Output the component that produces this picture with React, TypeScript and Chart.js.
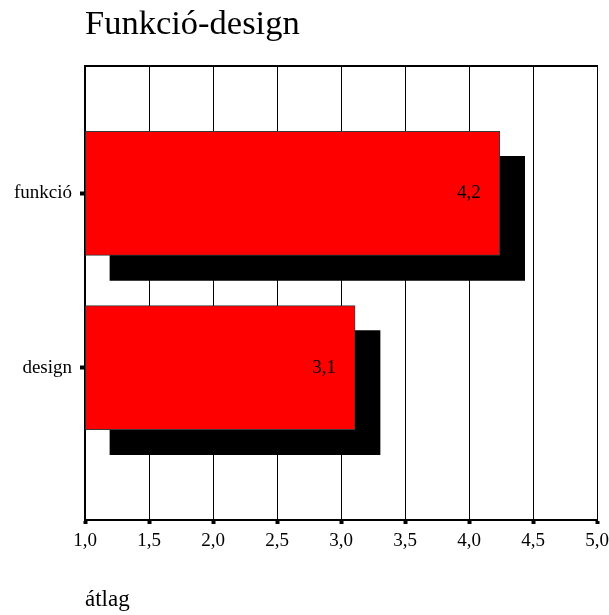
import { useEffect, useRef } from 'react';
import { Chart, registerables } from 'chart.js';

Chart.register(...registerables);

// ---- data ----
const TITLE = 'Funkció-design';
const AXIS_TITLE = 'átlag';
const categories = ['funkció', 'design'];
const means = [4.24, 3.11];
const xTicks = [1.0, 1.5, 2.0, 2.5, 3.0, 3.5, 4.0, 4.5, 5.0];

// ---- style ----
const FONT = "'Liberation Serif', 'Times New Roman', Times, serif";
const X_MIN = 1;
const X_MAX = 5;
const Y_MIN = 0.271;
const Y_MAX = 2.874;
const SHADOW_DX = 0.195; // shadow offset in x units
const SHADOW_DY = 0.143; // shadow offset in category units

const fmt = (v: number) => v.toFixed(1).replace('.', ',');

const valueLabels = {
  id: 'valueLabels',
  afterDatasetsDraw(chart: any) {
    const meta = chart.getDatasetMeta(0);
    const ctx = chart.ctx;
    ctx.save();
    ctx.font = `19px ${FONT}`;
    ctx.fillStyle = '#000';
    ctx.textAlign = 'right';
    ctx.textBaseline = 'middle';
    meta.data.forEach((el: any, i: number) => {
      ctx.fillText(fmt(means[i]), el.x - 19, el.y);
    });
    ctx.restore();
  },
};

export default function App() {
  const ref = useRef<HTMLCanvasElement>(null);

  useEffect(() => {
    const points = categories.map((_, i) => ({ x: means[i], y: i + 1 }));
    const tickFont = { size: 19, family: FONT };
    const chart = new Chart(ref.current as HTMLCanvasElement, {
      type: 'bar',
      data: {
        datasets: [
          {
            label: AXIS_TITLE,
            data: points,
            backgroundColor: '#FF0000',
            borderColor: '#3a3a3a',
            borderWidth: 1,
            borderSkipped: false,
            base: 1,
            barThickness: 124,
            grouped: false,
            xAxisID: 'x',
            yAxisID: 'y',
            order: 0,
          } as any,
          {
            label: 'shadow',
            data: points.map((p) => ({ ...p })),
            backgroundColor: '#000000',
            borderWidth: 0,
            base: 1,
            barThickness: 124,
            grouped: false,
            xAxisID: 'x2',
            yAxisID: 'y2',
            order: 1,
          } as any,
        ],
      },
      options: {
        indexAxis: 'y',
        animation: false,
        responsive: false,
        devicePixelRatio: 1,
        layout: { padding: { left: 0, right: 12, top: 0, bottom: 0 } },
        plugins: {
          legend: { display: false },
          tooltip: { enabled: false },
          title: {
            display: true,
            text: TITLE,
            align: 'start',
            fullSize: false,
            color: '#000',
            font: { size: 34.5, family: FONT, weight: 'normal' },
            padding: { top: 4, bottom: 21 },
          },
        },
        scales: {
          x: {
            type: 'linear',
            position: 'bottom',
            offset: false,
            min: X_MIN,
            max: X_MAX,
            afterBuildTicks: (s: any) => {
              s.ticks = xTicks.map((v) => ({ value: v }));
            },
            afterFit: (s: any) => {
              s.height = 95;
              s.paddingLeft = 0;
              s.paddingRight = 0;
            },
            ticks: {
              callback: (v: any) => fmt(Number(v)),
              color: '#000',
              font: tickFont,
              padding: 6,
              maxRotation: 0,
              autoSkip: false,
            },
            grid: {
              offset: false,
              color: '#000',
              lineWidth: 1,
              drawTicks: true,
              tickLength: 4,
              tickWidth: 4,
              tickColor: '#000',
            },
            border: { display: true, color: '#000', width: 2 },
            title: {
              display: true,
              text: AXIS_TITLE,
              align: 'start',
              color: '#000',
              font: { size: 23, family: FONT },
              padding: { top: 0, bottom: 1 },
            },
          },
          x2: {
            type: 'linear',
            position: 'top',
            display: true,
            offset: false,
            min: X_MIN - SHADOW_DX,
            max: X_MAX - SHADOW_DX,
            afterFit: (s: any) => {
              s.height = 0;
              s.paddingLeft = 0;
              s.paddingRight = 0;
            },
            ticks: { display: false },
            grid: { display: false, drawTicks: false, offset: false },
            border: { display: true, color: '#000', width: 2 },
          },
          y: {
            type: 'linear',
            position: 'left',
            reverse: true,
            offset: false,
            min: Y_MIN,
            max: Y_MAX,
            z: 1,
            afterBuildTicks: (s: any) => {
              s.ticks = categories.map((_, i) => ({ value: i + 1 }));
            },
            afterFit: (s: any) => {
              s.width = 85;
            },
            ticks: {
              callback: (v: any) => categories[Number(v) - 1] ?? '',
              color: '#000',
              font: tickFont,
              padding: 8,
              autoSkip: false,
            },
            grid: {
              display: true,
              offset: false,
              drawOnChartArea: false,
              drawTicks: true,
              tickLength: 5,
              tickWidth: 4,
              tickColor: '#000',
              color: '#000',
            },
            border: { display: true, color: '#000', width: 2 },
          },
          y2: {
            type: 'linear',
            display: false,
            reverse: true,
            offset: false,
            min: Y_MIN - SHADOW_DY,
            max: Y_MAX - SHADOW_DY,
            grid: { offset: false },
          },
        },
      } as any,
      plugins: [valueLabels],
    });
    return () => chart.destroy();
  }, []);

  return (
    <div style={{ position: 'absolute', left: 0, top: 0, width: 609, height: 615, background: '#fff' }}>
      <canvas ref={ref} width={609} height={615} style={{ display: 'block' }} />
    </div>
  );
}
